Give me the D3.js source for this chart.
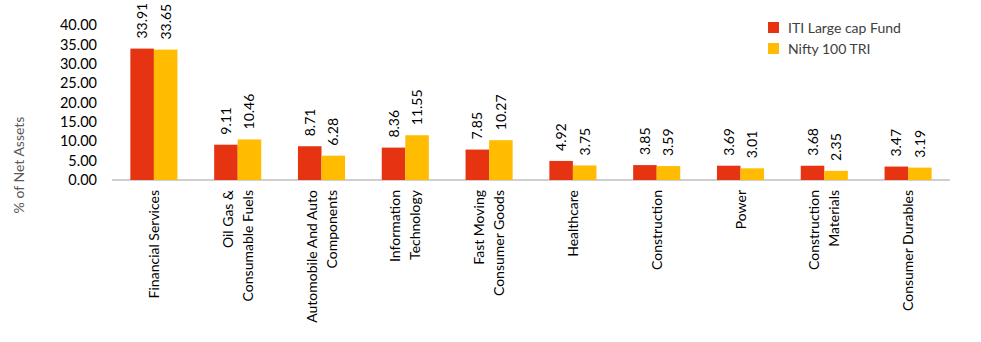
<!DOCTYPE html>
<html><head><meta charset="utf-8">
<script src="https://cdn.jsdelivr.net/npm/d3@7"></script>
<style>body{margin:0;background:#fff;} svg{display:block;}</style>
</head><body>
<svg id="c" width="981" height="342"></svg>
<script>
const categories = [
  ["Financial Services"],
  ["Oil Gas &", "Consumable Fuels"],
  ["Automobile And Auto", "Components"],
  ["Information", "Technology"],
  ["Fast Moving", "Consumer Goods"],
  ["Healthcare"],
  ["Construction"],
  ["Power"],
  ["Construction", "Materials"],
  ["Consumer Durables"]
];
const fundValues = [33.91, 9.11, 8.71, 8.36, 7.85, 4.92, 3.85, 3.69, 3.68, 3.47];
const indexValues = [33.65, 10.46, 6.28, 11.55, 10.27, 3.75, 3.59, 3.01, 2.35, 3.19];
const seriesNames = ["ITI Large cap Fund", "Nifty 100 TRI"];
const yTicks = [0, 5, 10, 15, 20, 25, 30, 35, 40];
const colors = ["#E63312", "#FFBC00"];

const svg = d3.select("#c");
const font = "Lato, 'Open Sans', sans-serif";
const x = d3.scaleBand().domain(d3.range(categories.length)).range([112, 950]).paddingInner(0).paddingOuter(0);
const y = d3.scaleLinear().domain([0, 40]).range([180, 25]);
const inner = d3.scaleBand().domain([0, 1]).range([0, x.bandwidth()]).paddingOuter(0.78).paddingInner(0);

// y axis labels
const yAxis = svg.append("g").attr("transform", "translate(97,0)")
  .call(d3.axisLeft(y).tickValues(yTicks).tickFormat(d3.format(".2f")).tickSize(0).tickPadding(0));
yAxis.select(".domain").remove();
yAxis.selectAll("text").attr("font-family", font).attr("font-size", 14.5).attr("fill", "#000");

// baseline
svg.append("line").attr("x1", 112).attr("x2", 950).attr("y1", y(0)).attr("y2", y(0))
  .attr("stroke", "#BFBFBF").attr("stroke-width", 1.5);

const series = [fundValues, indexValues];
series.forEach((vals, s) => {
  const g = svg.append("g");
  g.selectAll("rect").data(vals).join("rect")
    .attr("x", (d, i) => x(i) + inner(s))
    .attr("width", inner.bandwidth())
    .attr("y", d => y(d))
    .attr("height", d => y(0) - y(d))
    .attr("fill", colors[s]);
  g.selectAll("text").data(vals).join("text")
    .attr("transform", (d, i) => `translate(${x(i) + inner(s) + inner.bandwidth() / 2 + 5},${y(d) - 10}) rotate(-90)`)
    .attr("font-family", font).attr("font-size", 14).attr("fill", "#000")
    .text(d => d.toFixed(2));
});

// category labels
const cat = svg.append("g");
categories.forEach((lines, i) => {
  const cx = x(i) + x.bandwidth() / 2;
  const n = lines.length;
  lines.forEach((ln, j) => {
    const off = (j - (n - 1) / 2) * 20 + 5;
    cat.append("text")
      .attr("transform", `translate(${cx + off},190) rotate(-90)`)
      .attr("text-anchor", "end")
      .attr("font-family", font).attr("font-size", 14).attr("fill", "#000")
      .text(ln);
  });
});

// y axis title
svg.append("text").attr("transform", "translate(24,165) rotate(-90)")
  .attr("text-anchor", "middle").attr("font-family", font).attr("font-size", 14)
  .attr("fill", "#595959").text("% of Net Assets");

// legend
const leg = svg.append("g");
seriesNames.forEach((nm, i) => {
  leg.append("rect").attr("x", 768).attr("y", 22 + i * 21).attr("width", 11).attr("height", 11).attr("fill", colors[i]);
  leg.append("text").attr("x", 788).attr("y", 33 + i * 21).attr("font-family", font).attr("font-size", 14)
    .attr("fill", "#404040").text(nm);
});
</script>
</body></html>
